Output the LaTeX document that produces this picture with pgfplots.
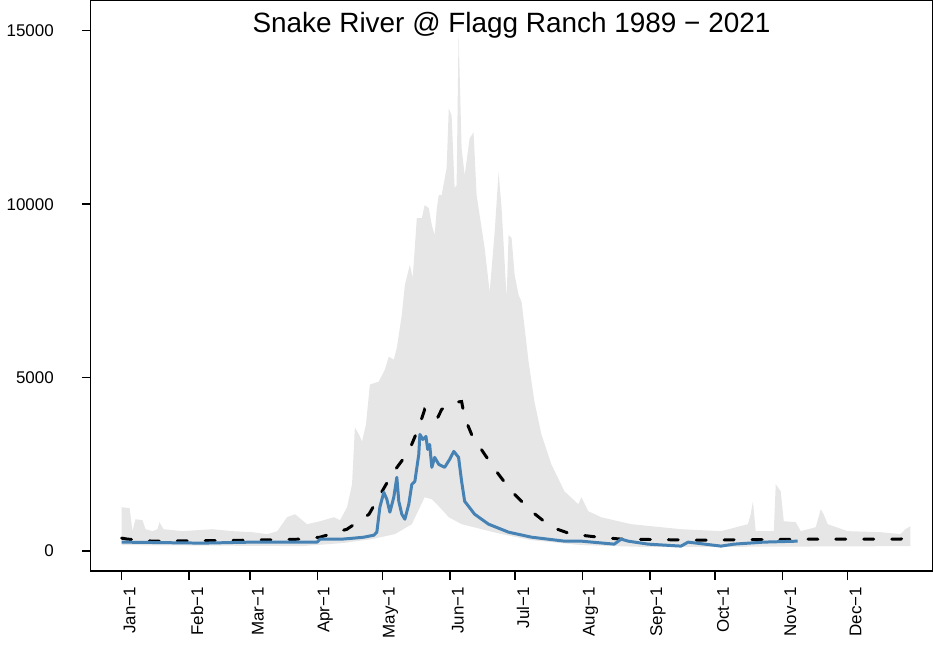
\documentclass[border=0pt]{standalone}
\usepackage{pgfplots}
\pgfplotsset{compat=1.18}
\usepgfplotslibrary{fillbetween}
\usepackage{fontspec}
\setmainfont{Liberation Sans}
\definecolor{envgray}{RGB}{230,230,230}
\definecolor{steel}{RGB}{70,130,180}

% daily flow (cfs) by day of year
\pgfplotstableread{
day val
1 1265
4.7 1236
6.0 575
7.4 920
10.6 891
12.0 632
15.2 575
17.5 632
18.4 833
20.3 632
29.0 575
42.7 632
51.9 575
61.1 546
68.0 489
72.6 575
77.1 977
80.8 1063
86.3 776
92.3 862
98.7 977
101.5 891
104.7 1265
107.0 1926
108.3 3564
110.2 3363
111.6 3161
113.4 3650
115.2 4800
119.3 4886
122.1 5231
123.9 5604
126.2 5518
127.6 5863
129.9 6811
131.3 7674
133.6 8248
134.9 7875
136.8 9599
139.1 9599
140.4 9973
142.3 9887
143.7 9398
145.0 9111
146.0 9887
146.9 10260
148.2 10260
150.5 11036
151.5 12761
152.8 12559
154.2 10461
155.1 10548
156.0 14945
157.0 12559
157.4 11611
158.8 10835
161.1 11898
162.9 12071
164.3 10260
168.0 8737
170.3 7472
172.6 9197
174.4 10921
175.8 9887
178.1 7300
179.0 9111
180.4 9024
181.8 7961
183.6 7386
185.0 7185
188.2 5461
190.9 4311
194.1 3363
198.7 2500
204.7 1724
211.1 1351
212.5 1552
215.7 1150
221.6 977
235.4 776
258.3 632
276.7 575
289.1 776
290.4 1063
291.4 1437
292.7 575
301.0 575
301.9 1926
304.2 1724
305.6 862
311.1 833
313.4 575
320.3 690
322.6 1207
323.9 1063
325.8 776
335.0 575
350.1 546
359.3 489
361.6 632
363.8 718
}\maxtable

\pgfplotstableread{
day val
1 172
84.0 144
102.4 230
116.1 345
126.7 489
134.5 776
140.4 1552
143.7 1494
146.9 1293
151.5 977
157.4 776
166.6 632
175.8 489
189.5 316
212.5 172
244.6 115
363.8 144
}\mintable

\pgfplotstableread{
day val
1 374
3.8 345
15.2 287
61.1 316
84.0 345
92.3 402
104.7 632
114.8 1063
125.3 2213
133.1 2874
137.7 3564
140.4 4081
143.7 3937
146.0 3794
148.2 4081
152.8 4282
157.4 4311
158.8 3851
162.0 3363
168.0 2788
174.4 2213
180.4 1724
189.5 1150
198.7 690
207.9 489
220.3 402
230.8 345
267.5 316
313.4 345
359.3 345
363.8 431
}\mediantable

\pgfplotstableread{
day val
1 259
38.2 230
61.1 259
90.9 259
92.3 345
102.4 345
107.9 374
112.5 402
117.1 460
118.4 546
119.8 1265
121.6 1696
123.0 1494
124.4 1121
126.2 1552
127.6 2127
128.5 1437
129.9 1063
131.3 920
133.1 1351
134.5 1926
135.9 2012
137.7 2788
138.2 3363
139.6 3219
141.0 3305
141.8 2931
142.7 3075
143.7 2414
145.0 2702
146.9 2500
149.6 2414
151.9 2644
153.8 2874
156.0 2702
157.4 2012
158.8 1437
163.4 1063
169.8 776
179.0 546
189.5 402
204.7 287
212.5 287
227.6 201
230.8 345
234.0 287
243.2 201
258.3 144
261.6 259
276.7 144
282.7 201
296.4 259
312.0 287
}\yeartable

\begin{document}
\begin{tikzpicture}
\begin{axis}[
    scale only axis,
    width=422pt, height=286pt,
    xmin=-13.2, xmax=373.9,
    ymin=-575, ymax=15864,
    axis line style={line width=0.75pt},
    tick style={black, line width=0.75pt},
    tick align=outside,
    major tick length=4.5pt,
    xtick={1,32,60,91,121,152,182,213,244,274,305,335},
    xticklabels={Jan−1,Feb−1,Mar−1,Apr−1,May−1,Jun−1,Jul−1,Aug−1,Sep−1,Oct−1,Nov−1,Dec−1},
    ytick={0,5000,10000,15000},
    scaled y ticks=false,
    yticklabel style={/pgf/number format/1000 sep={}, /pgf/number format/assume math mode=true, xshift=-10.5pt},
    xticklabel style={rotate=90, anchor=east, yshift=-4pt},
    ticklabel style={font=\fontsize{8.5}{10}\selectfont},
    xtick pos=bottom, ytick pos=left,
    title={Snake River @ Flagg Ranch 1989 − 2021},
    title style={at={(0.5,1)}, anchor=north, yshift=-8pt, font=\fontsize{14}{16}\selectfont},
]
\addplot[name path=upper, draw=none] table[x=day, y=val] {\maxtable};
\addplot[name path=lower, draw=none] table[x=day, y=val] {\mintable};
\addplot[envgray, draw=none] fill between[of=upper and lower];
\addplot[black, line width=1.5pt, dash pattern=on 5pt off 9pt, line cap=round] table[x=day, y=val] {\mediantable};
\addplot[steel, line width=1.5pt, line join=round] table[x=day, y=val] {\yeartable};
\end{axis}
\end{tikzpicture}
\end{document}
